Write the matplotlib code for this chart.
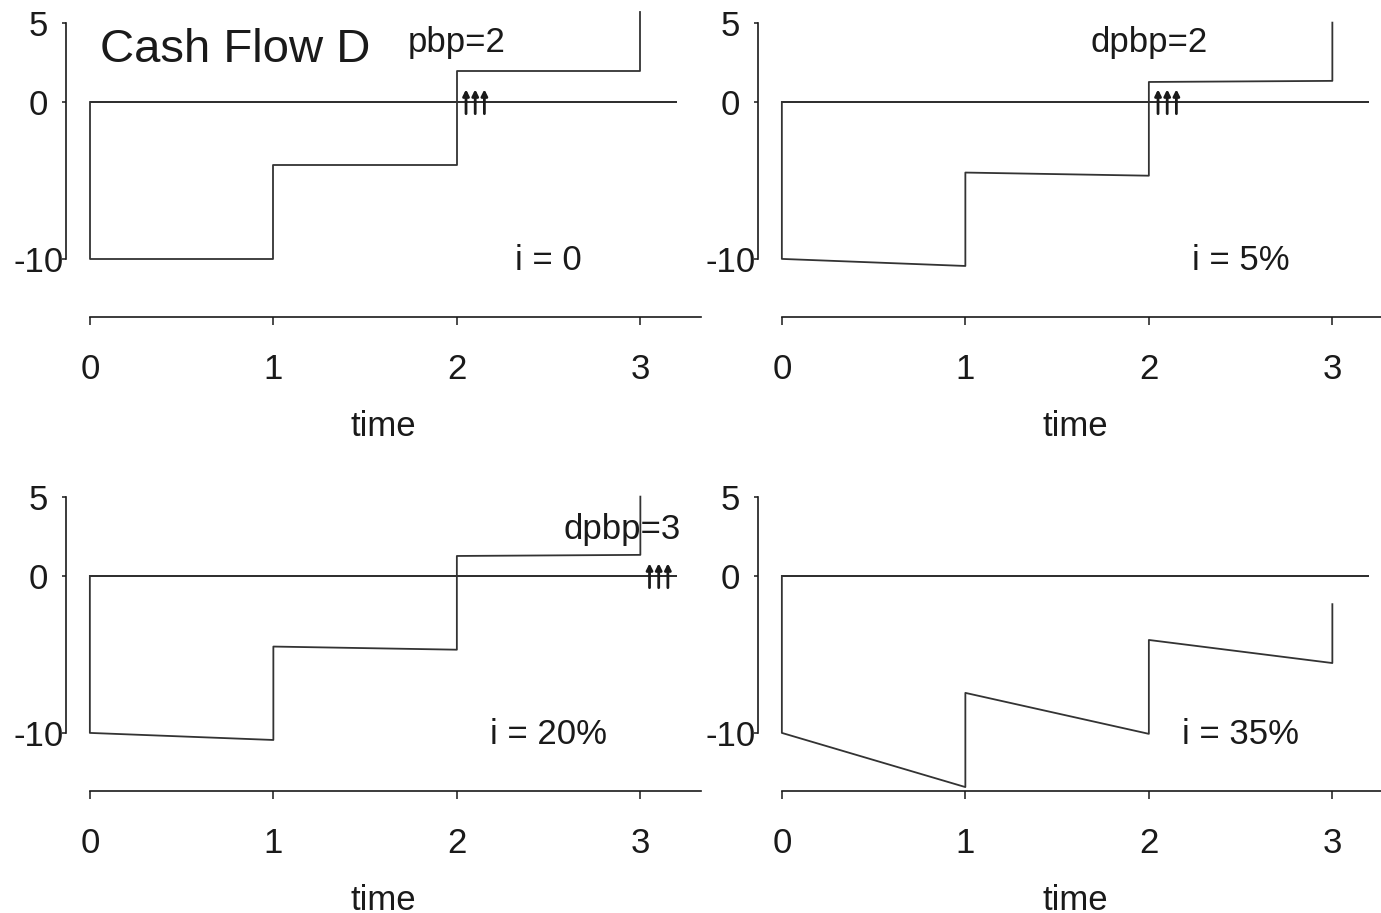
import numpy as np
import matplotlib as mpl
mpl.use('Agg')
import matplotlib.pyplot as plt
mpl.rcParams['font.family'] = ['Liberation Sans', 'DejaVu Sans']

# cumulative balance path: x = time, y = balance
t_path = [0, 0, 1, 1, 2, 2, 3, 3]
bal_i0 = [0, -10, -10, -4, -4, 2, 2, 5.7]
bal_i5 = [0, -10, -10.45, -4.5, -4.7, 1.27, 1.34, 5.05]
bal_i20 = [0, -10, -10.45, -4.5, -4.7, 1.27, 1.34, 5.05]
bal_i35 = [0, -10, -13.45, -7.45, -10.06, -4.08, -5.55, -1.8]

rate_labels = ['i = 0', 'i = 5%', 'i = 20%', 'i = 35%']
pbp_labels = ['pbp=2', 'dpbp=2', 'dpbp=3', None]
pbp_marks = [2.1, 2.1, 3.1, None]
pbp_text_pos = [(2.0, 3.8), (2.0, 3.8), (2.9, 2.95), None]

fig = plt.figure(figsize=(13.81, 9.13), dpi=100)
W, H = 1381, 913

# axes rectangles (pixels: left spine x, bottom axis y)
rects = [(66, 317), (758, 317), (66, 791), (758, 791)]
xlo, xhi = -0.13, 3.33
ylo, yhi = -13.7, 5.8
px_x, px_y = 183.5, 15.7

series = [bal_i0, bal_i5, bal_i20, bal_i35]
ink = '#1a1a1a'

for k, (lx, by) in enumerate(rects):
    w = (xhi - xlo) * px_x
    h = (yhi - ylo) * px_y
    ax = fig.add_axes([lx / W, (H - by) / H, w / W, h / H])
    ax.set_xlim(xlo, xhi)
    ax.set_ylim(ylo, yhi)
    ax.set_facecolor('none')

    ax.hlines(0, 0, 3.2, color=ink, lw=1.3)
    ax.plot(t_path, series[k], color='#333333', lw=1.3)

    for s in ['top', 'right']:
        ax.spines[s].set_visible(False)
    ax.spines['left'].set_bounds(-10, 5)
    ax.spines['bottom'].set_bounds(0, 3.33)
    for s in ['left', 'bottom']:
        ax.spines[s].set_color(ink)
        ax.spines[s].set_linewidth(1.2)

    ax.set_yticks([-10, 0, 5])
    ax.set_yticklabels(['-10', '0', '5'])
    ax.set_xticks([0, 1, 2, 3])
    ax.tick_params(axis='y', length=3, width=1.1, pad=17, labelsize=25, colors=ink)
    ax.tick_params(axis='x', length=6, width=1.1, pad=20, labelsize=25, colors=ink)
    for lab in ax.get_yticklabels():
        lab.set_horizontalalignment('center')
    ax.set_xlabel('time', fontsize=25, labelpad=17, color=ink)

    ax.text(2.5, -10.1, rate_labels[k], fontsize=25, ha='center', va='center', color=ink)

    if pbp_labels[k]:
        px, py = pbp_text_pos[k]
        ax.text(px, py, pbp_labels[k], fontsize=25, ha='center', va='center', color=ink)
    if pbp_marks[k] is not None:
        for dx in (-0.05, 0.0, 0.05):
            ax.annotate('', xy=(pbp_marks[k] + dx, 0.8), xytext=(pbp_marks[k] + dx, -0.75),
                        arrowprops=dict(arrowstyle='-|>', color=ink, lw=2.0,
                                        mutation_scale=9, shrinkA=0, shrinkB=0))

    if k == 0:
        ax.text(0.055, 3.3, 'Cash Flow D', fontsize=34, ha='left', va='center', color=ink)

fig.savefig('out.png', dpi=100)
